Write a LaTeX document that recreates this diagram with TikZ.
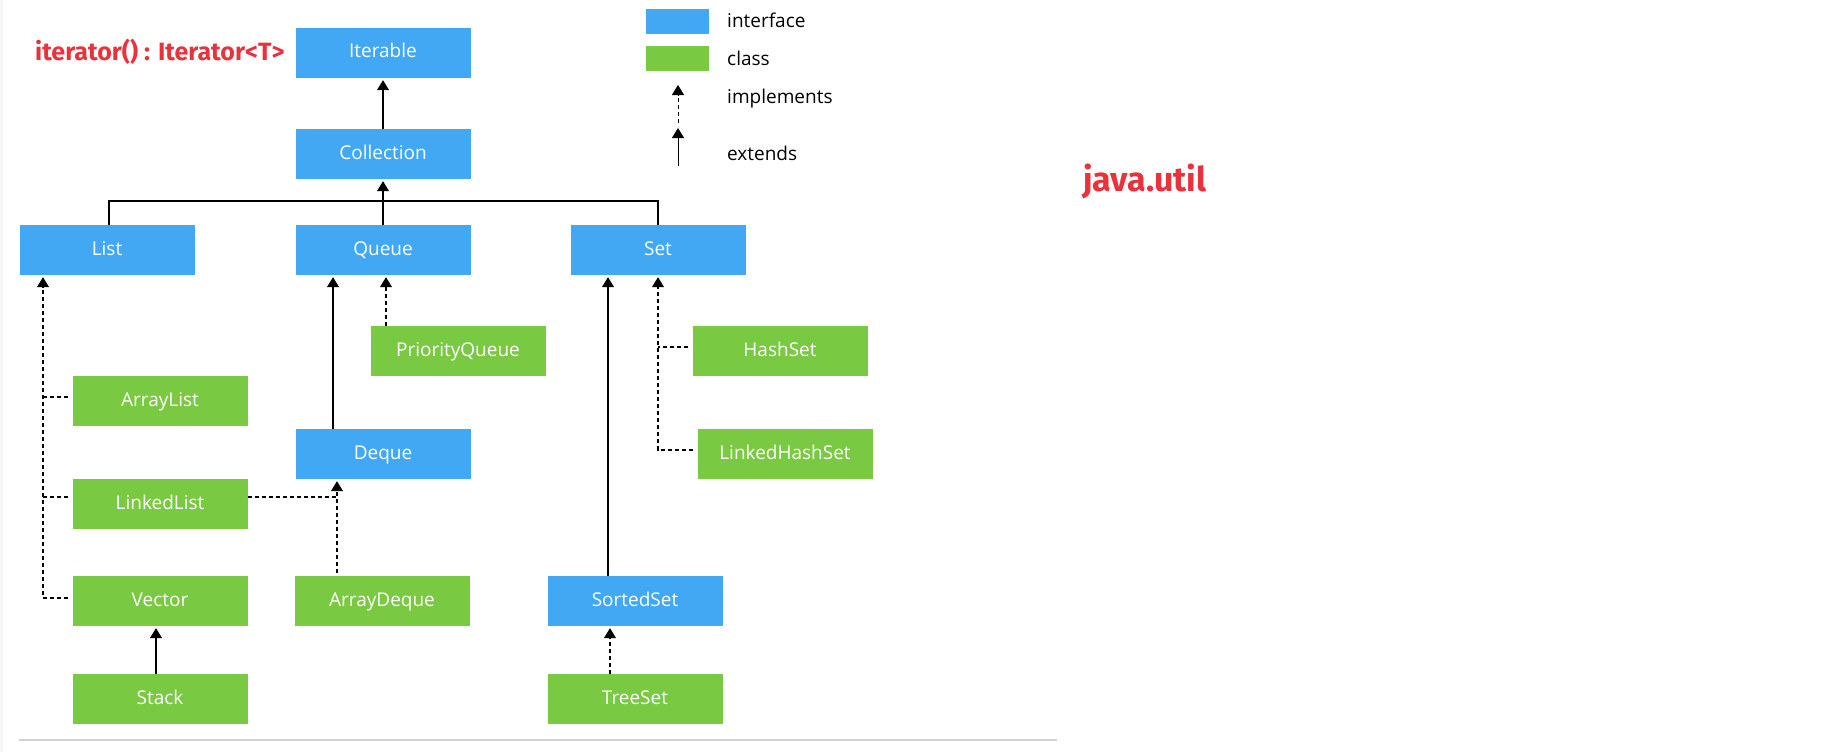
\documentclass[tikz,border=0pt]{standalone}
\usepackage{fontspec}
\setmainfont{Open Sans}
\newfontfamily\notefont{Fira Sans}
\usetikzlibrary{arrows.meta}
\definecolor{ifblue}{RGB}{66,168,244}
\definecolor{clgreen}{RGB}{122,201,67}
\definecolor{notered}{RGB}{232,50,60}

\begin{document}
\begin{tikzpicture}[x=1pt,y=-1pt,
  box/.style={minimum width=175pt,minimum height=50pt,inner sep=0pt,text=white,
    font=\fontsize{19}{22}\selectfont,text height=14pt,text depth=4pt},
  iface/.style={box,fill=ifblue},
  cls/.style={box,fill=clgreen},
  ext/.style={line width=1.1pt,-{Triangle[width=12pt,length=10pt]},shorten >=2pt},
  impl/.style={ext,dash pattern=on 4pt off 3pt},
  stub/.style={line width=1.1pt,dash pattern=on 4pt off 3pt},
  legend/.style={anchor=west,inner sep=0pt,font=\fontsize{19}{22}\selectfont},
  note/.style={anchor=base west,inner sep=0pt,text=notered,font=\notefont\bfseries}]
  \useasboundingbox (0,0) rectangle (1828,752);
  \fill[black!4] (0,0) rectangle (3,752);
  \draw[black!18,line width=2pt] (19,740) -- (1057,740);

  % interfaces and classes
  \node[iface] (iterable) at (383,53) {Iterable};
  \node[iface] (collection) at (383,154) {Collection};
  \node[iface] (list) at (107,250) {List};
  \node[iface] (queue) at (383,250) {Queue};
  \node[iface] (set) at (658,250) {Set};
  \node[cls] (priorityqueue) at (458,351) {PriorityQueue};
  \node[cls] (hashset) at (780,351) {HashSet};
  \node[cls] (arraylist) at (160,401) {ArrayList};
  \node[iface] (deque) at (383,454) {Deque};
  \node[cls] (linkedhashset) at (785,454) {LinkedHashSet};
  \node[cls] (linkedlist) at (160,504) {LinkedList};
  \node[cls] (vector) at (160,601) {Vector};
  \node[cls] (arraydeque) at (382,601) {ArrayDeque};
  \node[iface] (sortedset) at (635,601) {SortedSet};
  \node[cls] (stack) at (160,699) {Stack};
  \node[cls] (treeset) at (635,699) {TreeSet};

  % top of the tree
  \coordinate (bus) at (383,201);
  \draw[line width=1.1pt] ([xshift=2pt]list.north) |- (bus) -| (set.north);
  \draw[ext] (queue.north) -- (collection.south);
  \draw[ext] (collection.north) -- (iterable.south);

  % list branch
  \coordinate (lspine) at ([xshift=-64pt]list.south);
  \draw[impl,shorten <=4pt] ([yshift=3pt]vector.west) -| (lspine);
  \draw[stub,shorten <=4pt] ([yshift=4pt]arraylist.west) -- ([yshift=4pt]arraylist.west -| lspine);
  \draw[stub,shorten <=4pt] ([yshift=7pt]linkedlist.west) -- ([yshift=7pt]linkedlist.west -| lspine);
  \draw[ext] ([xshift=-4pt]stack.north) -- ([xshift=-4pt]vector.south);

  % queue branch
  \draw[ext] ([xshift=-50pt]deque.north) -- ([xshift=-50pt]queue.south);
  \draw[impl] ([xshift=-72pt]priorityqueue.north) -- ([xshift=3pt]queue.south);
  \coordinate (dspine) at ([xshift=-46pt]deque.south);
  \draw[impl,shorten <=3pt] (arraydeque.north -| dspine) -- (dspine);
  \draw[stub] ([yshift=7pt]linkedlist.east) -- ([yshift=7pt]linkedlist.east -| dspine);

  % set branch
  \draw[ext] ([xshift=-27pt]sortedset.north) -- ([xshift=-50pt]set.south);
  \draw[impl,shorten <=4pt] ([yshift=4pt]linkedhashset.west) -| (set.south);
  \draw[stub,shorten <=4pt] ([yshift=4pt]hashset.west) -- ([yshift=4pt]hashset.west -| set.south);
  \draw[impl] ([xshift=-25pt]treeset.north) -- ([xshift=-25pt]sortedset.south);

  % legend
  \node[fill=ifblue,minimum width=63pt,minimum height=25pt,inner sep=0pt] (keyiface) at (677.5,21.5) {};
  \node[fill=clgreen,minimum width=63pt,minimum height=25pt,inner sep=0pt] (keycls) at (677.5,59) {};
  \node[legend] (keyifacetxt) at (727,20) {interface};
  \node[legend] (keyclstxt) at (727,58) {class};
  \node[legend] (keyimpltxt) at (727,99) {implements};
  \node[legend] (keyexttxt) at (727,153) {extends};
  \coordinate (keyimplfrom) at (678,123);
  \coordinate (keyimplto) at (678,83);
  \coordinate (keyextfrom) at (678,166);
  \coordinate (keyextto) at (678,126);
  \draw[impl,line width=1pt] (keyimplfrom) -- (keyimplto);
  \draw[ext,line width=1pt] (keyextfrom) -- (keyextto);

  % notes
  \node[note] (itnote) at (35,61) {\fontsize{25}{29}\selectfont iterator() : Iterator<T>};
  \node[note] (pkgnote) at (1083,191) {\fontsize{34}{40}\selectfont java.util};
\end{tikzpicture}
\end{document}
